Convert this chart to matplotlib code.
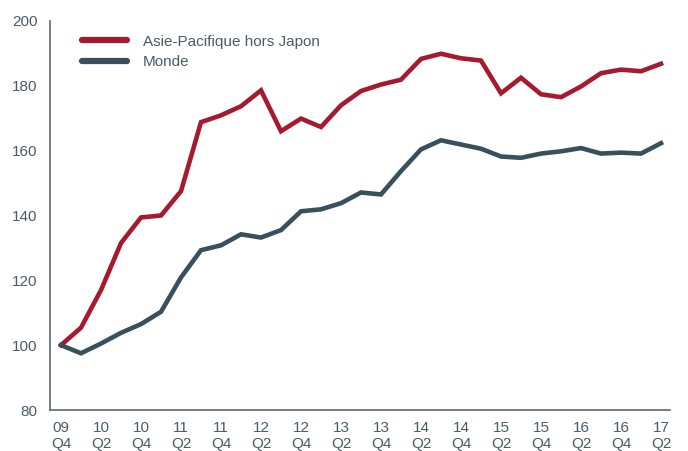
import matplotlib
matplotlib.use("Agg")
import matplotlib.pyplot as plt

quarters = ["09\nQ4", "10\nQ2", "10\nQ4", "11\nQ2", "11\nQ4", "12\nQ2", "12\nQ4",
            "13\nQ2", "13\nQ4", "14\nQ2", "14\nQ4", "15\nQ2", "15\nQ4", "16\nQ2",
            "16\nQ4", "17\nQ2"]

asia_ex_japan = [100, 105.4, 117, 131.5, 139.4, 140, 147.5, 168.8, 170.9, 173.7,
                 178.6, 166, 169.9, 167.3, 174, 178.4, 180.4, 181.9, 188.3, 189.9,
                 188.5, 187.8, 177.7, 182.5, 177.4, 176.5, 179.8, 183.9, 185, 184.5,
                 186.8]
world = [100, 97.5, 100.5, 103.8, 106.5, 110.3, 120.9, 129.3, 130.8, 134.2,
         133.2, 135.5, 141.3, 141.9, 143.8, 147.1, 146.5, 153.7, 160.4, 163.2,
         161.9, 160.6, 158.2, 157.8, 159.1, 159.8, 160.8, 159.1, 159.4, 159.1,
         162.3]

red = "#A6192E"
slate = "#37505C"
text_col = "#4A5B66"

plt.rcParams["font.family"] = ["Liberation Sans", "DejaVu Sans"]

fig = plt.figure(figsize=(6.88, 4.51), dpi=100)
ax = fig.add_axes([50 / 688, 41 / 451, 620 / 688, 389 / 451])

x = list(range(len(world)))
ax.plot(x, asia_ex_japan, color=red, lw=3.3, solid_joinstyle="miter",
        label="Asie-Pacifique hors Japon")
ax.plot(x, world, color=slate, lw=3.3, solid_joinstyle="miter", label="Monde")

ax.set_xlim(-0.55, 30.45)
ax.set_ylim(80, 200)
ax.set_yticks(range(80, 201, 20))
ax.set_xticks(range(0, 31, 2))
ax.set_xticklabels(quarters, linespacing=1.2)

for side in ["top", "right"]:
    ax.spines[side].set_visible(False)
for side in ["left", "bottom"]:
    ax.spines[side].set_color("#5A6A74")
    ax.spines[side].set_linewidth(1.2)

ax.tick_params(length=0, labelsize=11, colors=text_col)
ax.tick_params(axis="y", pad=9)
ax.tick_params(axis="x", pad=8)

leg = ax.legend(loc="upper left", bbox_to_anchor=(0.0516, 0.965), frameon=False,
                borderaxespad=0, borderpad=0, handlelength=2.95,
                handletextpad=1.05, labelspacing=0.42, fontsize=11)
for line in leg.get_lines():
    line.set_linewidth(4.5)
    line.set_solid_capstyle("round")
for t in leg.get_texts():
    t.set_color(text_col)

fig.savefig("out.png", dpi=100)
